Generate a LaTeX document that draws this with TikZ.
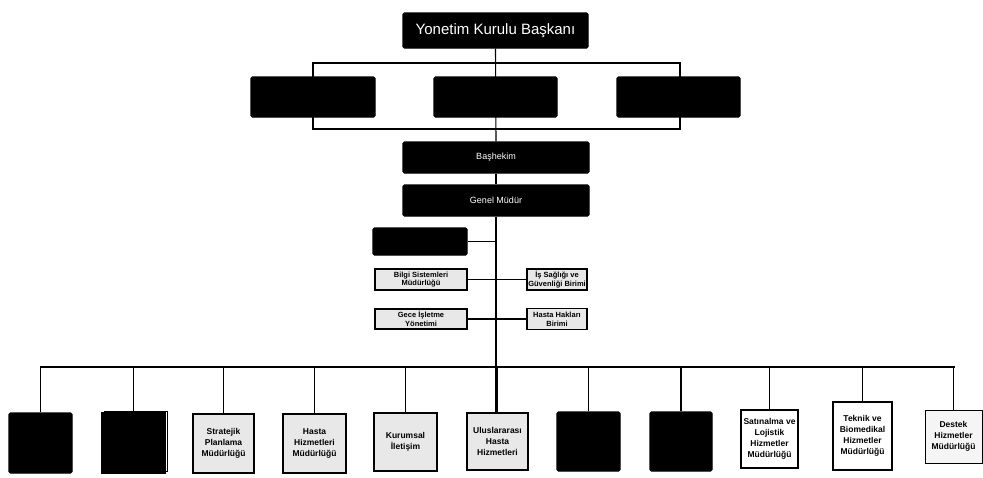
\documentclass[tikz,border=0pt]{standalone}
\usepackage{fontspec}
\setmainfont{Liberation Sans}
\usetikzlibrary{shadows}

\tikzset{
  every path/.style={line width=1.1pt},
  darkbox/.style={draw=black, fill=black, rounded corners=1.5pt, inner sep=0pt},
  titlebox/.style={darkbox, text=white, font=\fontsize{15}{17}\selectfont},
  headbox/.style={darkbox, text=white, font=\fontsize{9}{10}\selectfont},
  unitbox/.style={draw=black, fill=gray!18, inner sep=1pt, align=center,
    font=\bfseries\fontsize{8.5}{11}\selectfont},
  sidebox/.style={unitbox, font=\bfseries\fontsize{7.5}{8.8}\selectfont},
  plainbox/.style={unitbox, fill=white},
}

\begin{document}
\begin{tikzpicture}[x=1pt, y=-1pt]
  \useasboundingbox (0,0) rectangle (983,477);

  % ust yonetim
  \node[titlebox, minimum width=185, minimum height=35] (ykb) at (495.5,30.5) {Yonetim Kurulu Başkanı};
  \node[darkbox, minimum width=124, minimum height=40] (kur1) at (313,97) {};
  \node[darkbox, minimum width=123, minimum height=40] (kur2) at (495.5,97) {};
  \node[darkbox, minimum width=123, minimum height=40] (kur3) at (678.5,97) {};
  \node[headbox, minimum width=186, minimum height=31] (bas) at (496,157.5) {Başhekim};
  \node[headbox, minimum width=186, minimum height=31] (gm) at (496,200.5) {Genel Müdür};

  % bagli birimler
  \node[darkbox, minimum width=94, minimum height=27] (kurmy) at (420,241.5) {};
  \node[sidebox, minimum width=92, minimum height=21] (bilgi) at (421,279.5) {Bilgi Sistemleri\\Müdürlüğü};
  \node[sidebox, minimum width=60, minimum height=21] (isg) at (557,279.5) {İş Sağlığı ve\\Güvenliği Birimi};
  \node[sidebox, minimum width=92, minimum height=20] (gece) at (421,319) {Gece İşletme\\Yönetimi};
  \node[sidebox, minimum width=60, minimum height=21] (hhb) at (557,319) {Hasta Hakları\\Birimi};

  % mudurlukler
  \node[darkbox, minimum width=63, minimum height=60] (m1) at (40.5,443) {};
  \node[darkbox, minimum width=63, minimum height=60, rounded corners=0pt,
    copy shadow={shadow xshift=2.5pt, shadow yshift=2pt, fill=white, draw=black, line width=0.6pt}] (m2) at (133.5,443) {};
  \node[unitbox, minimum width=61, minimum height=59] (m3) at (223.5,443.5) {Stratejik\\Planlama\\Müdürlüğü};
  \node[unitbox, minimum width=63, minimum height=59] (m4) at (314.5,443.5) {Hasta\\Hizmetleri\\Müdürlüğü};
  \node[unitbox, minimum width=63, minimum height=58] (m5) at (405.5,442) {Kurumsal\\İletişim};
  \node[unitbox, minimum width=61, minimum height=57] (m6) at (497.5,441.5) {Uluslararası\\Hasta\\Hizmetleri};
  \node[darkbox, minimum width=63, minimum height=59] (m7) at (588.5,441.5) {};
  \node[darkbox, minimum width=62, minimum height=59] (m8) at (681,441.5) {};
  \node[plainbox, minimum width=57, minimum height=58] (m9) at (769.5,439) {Satınalma ve\\Lojistik\\Hizmetler\\Müdürlüğü};
  \node[plainbox, minimum width=59, minimum height=68] (m10) at (862.5,436) {Teknik ve\\Biomedikal\\Hizmetler\\Müdürlüğü};
  \node[unitbox, fill=gray!8, line width=0.7pt, minimum width=57, minimum height=53] (m11) at (953.5,436.5) {Destek\\Hizmetler\\Müdürlüğü};

  % baglantilar
  \coordinate (kurL) at (313,63);
  \coordinate (kurR) at (680,129);
  \draw (kurL) rectangle (kurR);
  \draw (ykb.south) -- (bas.north);
  \draw (bas.south) -- (gm.north);
  \draw (gm.south) -- (gm.south |- m6.north);
  \draw (kurmy.east) -- (kurmy.east -| gm.south);
  \draw (bilgi.east) -- (isg.west);
  \draw (gece.east) -- (hhb.west);

  \coordinate (busL) at (40,367);
  \coordinate (busR) at (955,367);
  \draw (busL) -- (busR);
  \foreach \i in {1,...,11}
    \draw (m\i.north) -- (m\i.north |- busL);
\end{tikzpicture}
\end{document}
